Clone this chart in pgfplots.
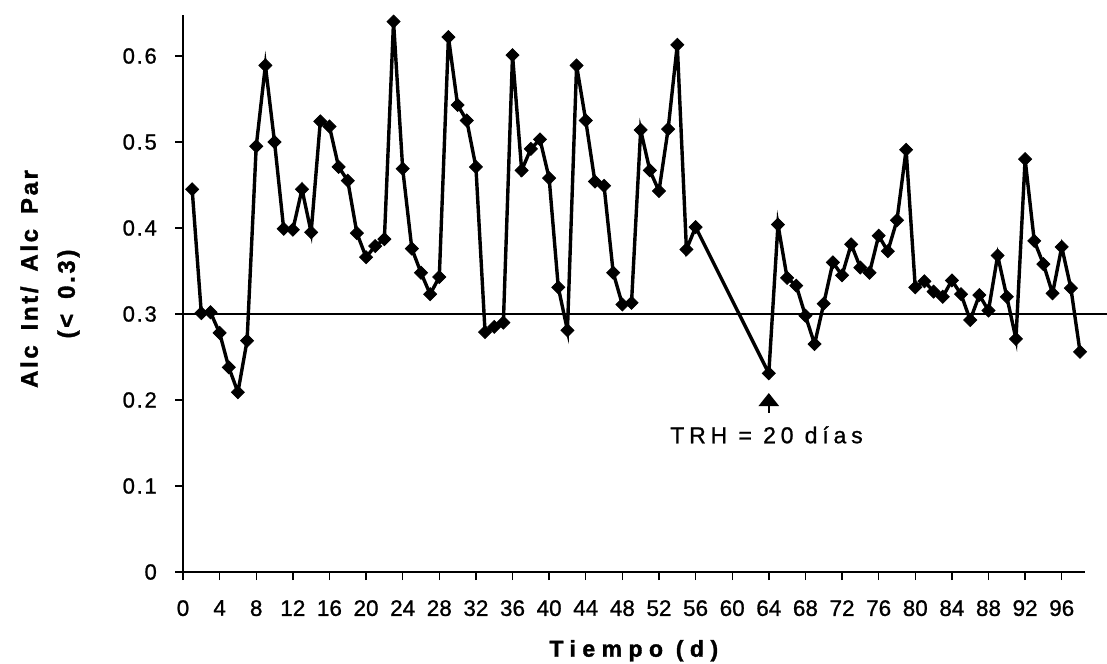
\documentclass[border=0pt]{standalone}
\usepackage{fontspec}
\setmainfont{Liberation Sans}
\newfontfamily\xlabfont[LetterSpace=28, FakeBold=1.5]{Liberation Sans}
\newfontfamily\ylabfont[LetterSpace=11, WordSpace=1.6, FakeBold=1.5]{Liberation Sans}
\newfontfamily\notefont[LetterSpace=21, FakeBold=1]{Liberation Sans}
\newfontfamily\ytickfont[LetterSpace=8, FakeBold=1]{Liberation Sans}
\newfontfamily\xtickfont[FakeBold=1]{Liberation Sans}
\usepackage{pgfplots}
\pgfplotsset{compat=1.18}
\usetikzlibrary{arrows.meta}

% Alc Int / Alc Par ratio per day of operation
\pgfplotstableread{
dia ratio
1 0.445
2 0.301
3 0.302
4 0.278
5 0.238
6 0.209
7 0.269
8 0.495
9 0.589
10 0.500
11 0.399
12 0.398
13 0.445
14 0.395
15 0.524
16 0.518
17 0.471
18 0.455
19 0.394
20 0.366
21 0.379
22 0.387
23 0.640
24 0.469
25 0.376
26 0.348
27 0.323
28 0.343
29 0.622
30 0.543
31 0.525
32 0.471
33 0.279
34 0.285
35 0.290
36 0.601
37 0.467
38 0.492
39 0.503
40 0.458
41 0.331
42 0.281
43 0.589
44 0.525
45 0.454
46 0.449
47 0.348
48 0.311
49 0.313
50 0.514
51 0.467
52 0.443
53 0.515
54 0.613
55 0.375
56 0.401
64 0.231
65 0.404
66 0.342
67 0.333
68 0.298
69 0.265
70 0.312
71 0.360
72 0.345
73 0.381
74 0.354
75 0.348
76 0.391
77 0.373
78 0.409
79 0.491
80 0.331
81 0.338
82 0.326
83 0.320
84 0.339
85 0.323
86 0.293
87 0.322
88 0.304
89 0.368
90 0.320
91 0.271
92 0.480
93 0.385
94 0.358
95 0.324
96 0.378
97 0.330
98 0.256
}\datos

\begin{document}
\begin{tikzpicture}
\useasboundingbox (0,0) rectangle (1107bp,664bp);
\begin{axis}[
  at={(183bp,92bp)}, anchor=south west,
  scale only axis,
  width=901.6bp, height=557.3bp,
  xmin=0, xmax=98.5,
  ymin=0, ymax=0.648,
  axis lines*=left,
  axis line style={line width=1.6bp},
  tick style={line width=1.4bp, black},
  tick align=outside,
  major tick length=8bp,
  xtick={0,4,...,96},
  ytick={0,0.1,0.2,0.3,0.4,0.5,0.6},
  /pgf/number format/assume math mode=true,
  yticklabel style={/pgf/number format/fixed, /pgf/number format/precision=1,
    anchor=east, inner sep=0pt, xshift=-18bp,
    font=\ytickfont\fontsize{22bp}{24bp}\selectfont},
  xticklabel style={anchor=north, inner sep=0pt, yshift=-20bp,
    font=\xtickfont\fontsize{22.5bp}{24bp}\selectfont},
  every axis x label/.style={at={(rel axis cs:0.5,0)}, anchor=base, yshift=-84.7bp,
    font=\xlabfont\bfseries\fontsize{23bp}{26bp}\selectfont},
  every axis y label/.style={at={(rel axis cs:0,0)}, xshift=-133bp, yshift=293bp,
    rotate=90, anchor=center, align=center,
    font=\ylabfont\bfseries\fontsize{24bp}{37bp}\selectfont},
  xlabel={Tiempo (d)},
  ylabel={Alc Int/ Alc Par\\(< 0.3)\hspace*{30bp}},
  clip=false,
]
% limit value of the ratio
\addplot[black, line width=1.8bp] coordinates {(0,0.3) (101.3,0.3)};
% measured ratio
\addplot[black, line width=3.4bp, mark=square*,
  mark size=4.6bp, mark options={rotate=45, line width=0.8bp}]
  table[x=dia, y=ratio] {\datos};
\draw[line width=2.6bp, -{Triangle[width=20bp,length=13bp]}]
  (axis cs:64,0.1849) -- (axis cs:64,0.2081);
\node[anchor=base, inner sep=0pt,
  font=\notefont\fontsize{23bp}{26bp}\selectfont]
  at (axis cs:63.75,0.1497) {TRH = 20 días};
\end{axis}
\end{tikzpicture}
\end{document}
